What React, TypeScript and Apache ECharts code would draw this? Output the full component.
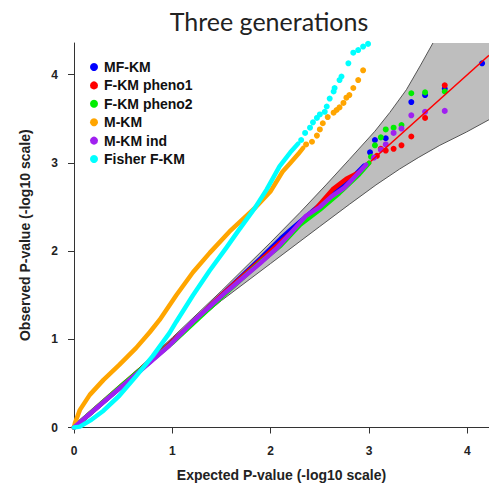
import React, { useEffect, useRef } from "react";
import * as echarts from "echarts";

const seriesNames = ["MF-KM", "F-KM pheno1", "F-KM pheno2", "M-KM", "M-KM ind", "Fisher F-KM"];
const seriesColors = ["#0000ff", "#ff0000", "#00ee00", "#ffa500", "#a020f0", "#00ffff"];

// dense parts (drawn as thick lines of overlapping points)
const mfkmDense = [[0, 0], [0.5, 0.48], [1.0, 0.97], [1.5, 1.5], [1.9, 1.92], [2.1, 2.14], [2.2, 2.24], [2.4, 2.43], [2.6, 2.62], [2.8, 2.8], [2.95, 2.97]];
const pheno1Dense = [[0, 0], [0.5, 0.49], [1.0, 0.97], [1.5, 1.5], [1.9, 1.9], [2.2, 2.2], [2.45, 2.47], [2.63, 2.7], [2.77, 2.82], [2.91, 2.9], [3.0, 3.0]];
const pheno2Dense = [[0, 0], [0.5, 0.49], [1.0, 0.96], [1.5, 1.48], [1.9, 1.88], [2.1, 2.06], [2.3, 2.3], [2.5, 2.47], [2.7, 2.66], [2.9, 2.87], [3.0, 3.0]];
const mkmDense = [[0, 0], [0.01, 0.05], [0.06, 0.2], [0.16, 0.37], [0.3, 0.54], [0.46, 0.71], [0.63, 0.9], [0.77, 1.08], [0.87, 1.22], [1.04, 1.5], [1.21, 1.76], [1.38, 1.98], [1.58, 2.22], [1.84, 2.49], [2.0, 2.68], [2.12, 2.9], [2.2, 3.0], [2.28, 3.1], [2.33, 3.17]];
const mkmIndDense = [[0, 0], [0.3, 0.29], [0.63, 0.6], [0.97, 0.93], [1.21, 1.2], [1.55, 1.54], [1.89, 1.86], [2.06, 2.03], [2.2, 2.2], [2.36, 2.4], [2.5, 2.5], [2.62, 2.62], [2.75, 2.72], [2.87, 2.86], [2.97, 2.98]];
const fisherDense = [[0, 0], [0.06, 0.01], [0.18, 0.09], [0.3, 0.19], [0.46, 0.36], [0.63, 0.58], [0.8, 0.81], [0.97, 1.07], [1.04, 1.2], [1.21, 1.5], [1.38, 1.78], [1.55, 2.04], [1.67, 2.23], [1.84, 2.49], [1.96, 2.7], [2.09, 2.96], [2.2, 3.12], [2.28, 3.22]];

// sparse upper tails (individual points)
const mfkmTail = [[3.01, 3.12], [3.06, 3.26], [3.17, 3.28], [3.43, 3.69], [3.57, 3.77], [3.77, 3.84], [4.15, 4.13]];
const pheno1Tail = [[3.08, 3.08], [3.12, 3.16], [3.17, 3.14], [3.25, 3.16], [3.33, 3.2], [3.43, 3.3], [3.57, 3.51], [3.77, 3.88]];
const pheno2Tail = [[3.02, 3.07], [3.06, 3.2], [3.12, 3.29], [3.17, 3.38], [3.25, 3.4], [3.33, 3.43], [3.43, 3.79], [3.57, 3.8], [3.77, 3.81]];
const mkmTail = [[2.36, 3.21], [2.42, 3.24], [2.47, 3.31], [2.5, 3.38], [2.53, 3.45], [2.58, 3.52], [2.64, 3.57], [2.67, 3.6], [2.7, 3.63], [2.74, 3.68], [2.77, 3.74], [2.8, 3.77], [2.84, 3.85], [2.89, 3.94], [2.94, 4.05]];
const mkmIndTail = [[3.05, 3.06], [3.12, 3.15], [3.17, 3.21], [3.25, 3.34], [3.33, 3.39], [3.43, 3.54], [3.57, 3.58], [3.77, 3.59]];
const fisherTail = [[2.31, 3.26], [2.35, 3.34], [2.4, 3.4], [2.43, 3.46], [2.47, 3.51], [2.5, 3.55], [2.55, 3.58], [2.57, 3.64], [2.6, 3.73], [2.64, 3.81], [2.65, 3.85], [2.7, 3.94], [2.72, 3.98], [2.79, 4.13], [2.84, 4.25], [2.89, 4.28], [2.94, 4.32], [2.99, 4.35]];

const denseData = [mfkmDense, pheno1Dense, pheno2Dense, mkmDense, mkmIndDense, fisherDense];
const tailData = [mfkmTail, pheno1Tail, pheno2Tail, mkmTail, mkmIndTail, fisherTail];

// confidence band
const bandUpper = [[0, 0], [1.0, 1.02], [1.5, 1.55], [1.8, 1.88], [2.0, 2.1], [2.3, 2.44], [2.57, 2.76], [2.8, 3.04], [3.06, 3.36], [3.21, 3.57], [3.38, 3.83], [3.52, 4.1], [3.65, 4.36]];
const bandLower = [[0, 0], [1.0, 0.97], [1.5, 1.44], [2.0, 1.86], [2.5, 2.28], [2.8, 2.53], [3.07, 2.75], [3.31, 2.93], [3.5, 3.06], [3.72, 3.2], [3.99, 3.35], [4.22, 3.49]];
const refLine = [[0, 0], [4.22, 4.22]];

const X_MAX = 4.22;
const Y_MAX = 4.36;

export default function App() {
  const ref = useRef<HTMLDivElement>(null);
  useEffect(() => {
    if (!ref.current) return;
    const chart = echarts.init(ref.current, null, { renderer: "svg" });
    const series: any[] = [];
    series.push({
      type: "custom",
      name: "band",
      data: [[0]],
      silent: true,
      renderItem: (_params: any, api: any) => {
        const up = bandUpper.map((p) => api.coord(p));
        const lo = bandLower.map((p) => api.coord(p));
        const corner = api.coord([X_MAX, Y_MAX]);
        const poly = [...up, corner, ...lo.slice().reverse()];
        return {
          type: "group",
          children: [
            { type: "polygon", shape: { points: poly, smooth: 0 }, style: { fill: "#bebebe", stroke: "none" } },
            { type: "polyline", shape: { points: up }, style: { stroke: "#555", lineWidth: 1, fill: "none" } },
            { type: "polyline", shape: { points: lo }, style: { stroke: "#555", lineWidth: 1, fill: "none" } },
          ],
        };
      },
    });
    series.push({
      type: "line",
      name: "ref",
      data: refLine,
      symbol: "none",
      silent: true,
      lineStyle: { color: "#ff0000", width: 1.5 },
    });
    seriesNames.forEach((name, i) => {
      series.push({
        type: "line",
        name: name + " dense",
        data: denseData[i],
        symbol: "none",
        lineStyle: { color: seriesColors[i], width: 4.5, cap: "round", join: "round" },
        itemStyle: { color: seriesColors[i] },
      });
      series.push({
        type: "scatter",
        name,
        data: tailData[i],
        symbol: "circle",
        symbolSize: 6,
        itemStyle: { color: seriesColors[i], opacity: 1 },
      });
    });

    chart.setOption({
      animation: false,
      title: {
        text: "Three generations",
        left: 264,
        textAlign: "center",
        top: 3,
        textStyle: { fontFamily: "Lato", fontSize: 25, fontWeight: "normal", color: "#222" },
      },
      legend: {
        data: seriesNames,
        orient: "vertical",
        left: 85,
        top: 55,
        icon: "circle",
        itemWidth: 8,
        itemHeight: 8,
        itemGap: 4.4,
        textStyle: { fontFamily: "Liberation Sans", fontWeight: "bold", fontSize: 14, lineHeight: 14, color: "#111", padding: [0, 0, 0, 1] },
      },
      grid: { left: 74, right: 0, top: 43, bottom: 61.5 },
      xAxis: {
        type: "value",
        min: 0,
        max: X_MAX,
        interval: 1,
        name: "Expected P-value (-log10 scale)",
        nameLocation: "middle",
        nameGap: 40,
        nameTextStyle: { fontFamily: "Liberation Sans", fontWeight: "bold", fontSize: 14, color: "#222" },
        axisLine: { show: true, onZero: false, lineStyle: { color: "#333", width: 1 } },
        axisTick: { show: true, length: 6, lineStyle: { color: "#333" } },
        axisLabel: { fontFamily: "Liberation Sans", fontWeight: "bold", fontSize: 12, color: "#222", margin: 17, showMaxLabel: false },
        splitLine: { show: false },
      },
      yAxis: {
        type: "value",
        min: 0,
        max: Y_MAX,
        interval: 1,
        name: "Observed P-value (-log10 scale)",
        nameLocation: "middle",
        nameGap: 42,
        nameTextStyle: { fontFamily: "Liberation Sans", fontWeight: "bold", fontSize: 14, color: "#222" },
        axisLine: { show: true, onZero: false, lineStyle: { color: "#333", width: 1 } },
        axisTick: { show: true, length: 6, lineStyle: { color: "#333" } },
        axisLabel: { fontFamily: "Liberation Sans", fontWeight: "bold", fontSize: 12, color: "#222", margin: 16, showMaxLabel: false },
        splitLine: { show: false },
      },
      series,
    });
    return () => chart.dispose();
  }, []);
  return <div ref={ref} style={{ width: 489, height: 489, position: "absolute", left: 0, top: 0 }} />;
}
